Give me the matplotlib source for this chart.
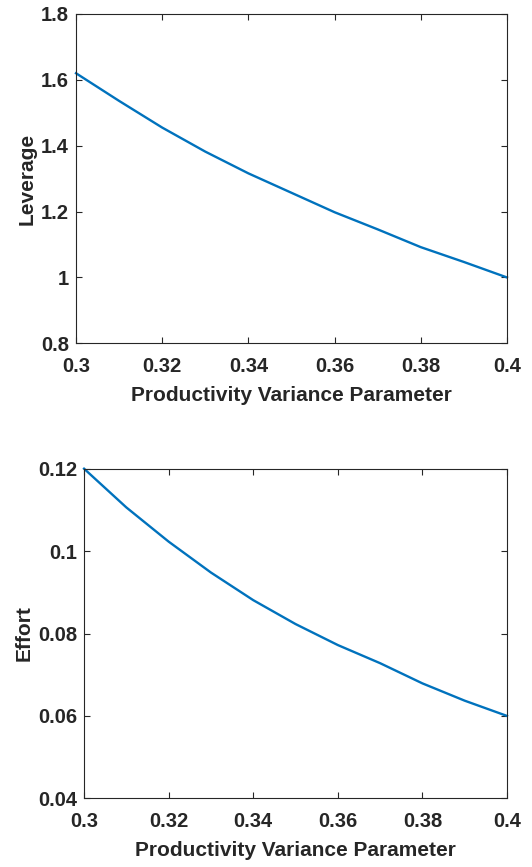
import matplotlib
matplotlib.use("Agg")
import matplotlib.pyplot as plt

# productivity variance parameter grid
sigma = [0.30, 0.31, 0.32, 0.33, 0.34, 0.35, 0.36, 0.37, 0.38, 0.39, 0.40]

# model outputs
leverage = [1.620, 1.536, 1.455, 1.382, 1.316, 1.257, 1.198, 1.146, 1.092, 1.047, 1.000]
effort = [0.1200, 0.1106, 0.1023, 0.0948, 0.0881, 0.0823, 0.0772, 0.0728, 0.0679, 0.0637, 0.0600]

x_ticks = [0.3, 0.32, 0.34, 0.36, 0.38, 0.4]
x_ticklabels = ["0.3", "0.32", "0.34", "0.36", "0.38", "0.4"]
lev_ticks = [0.8, 1.0, 1.2, 1.4, 1.6, 1.8]
lev_ticklabels = ["0.8", "1", "1.2", "1.4", "1.6", "1.8"]
eff_ticks = [0.04, 0.06, 0.08, 0.10, 0.12]
eff_ticklabels = ["0.04", "0.06", "0.08", "0.1", "0.12"]

plt.rcParams["font.family"] = ["Liberation Sans", "DejaVu Sans"]
plt.rcParams["font.weight"] = "bold"
dark = "#262626"
blue = "#0072BD"

fig = plt.figure(figsize=(5.32, 8.67), dpi=100)
ax1 = fig.add_axes([0.1429, 0.604, 0.953 - 0.1429, 0.9839 - 0.604])
ax2 = fig.add_axes([0.158, 0.0792, 0.953 - 0.158, 0.4594 - 0.0792])


def style(ax, yticks, yticklabels, ylabel):
    ax.set_xlim(0.3, 0.4)
    ax.set_ylim(yticks[0], yticks[-1])
    ax.set_xticks(x_ticks)
    ax.set_xticklabels(x_ticklabels)
    ax.set_yticks(yticks)
    ax.set_yticklabels(yticklabels)
    ax.tick_params(direction="in", top=True, right=True, length=4.5, width=0.8,
                   colors=dark, labelsize=14.5)
    ax.tick_params(axis="x", pad=10)
    ax.tick_params(axis="y", pad=5)
    for s in ax.spines.values():
        s.set_color(dark)
        s.set_linewidth(0.8)
    ax.set_xlabel("Productivity Variance Parameter", fontsize=15, fontweight="bold",
                  color=dark, labelpad=7)
    ax.set_ylabel(ylabel, fontsize=15, fontweight="bold", color=dark, labelpad=3)


ax1.plot(sigma, leverage, color=blue, linewidth=1.7, clip_on=False)
style(ax1, lev_ticks, lev_ticklabels, "Leverage")

ax2.plot(sigma, effort, color=blue, linewidth=1.7, clip_on=False)
style(ax2, eff_ticks, eff_ticklabels, "Effort")

fig.savefig("out.png", dpi=100)
